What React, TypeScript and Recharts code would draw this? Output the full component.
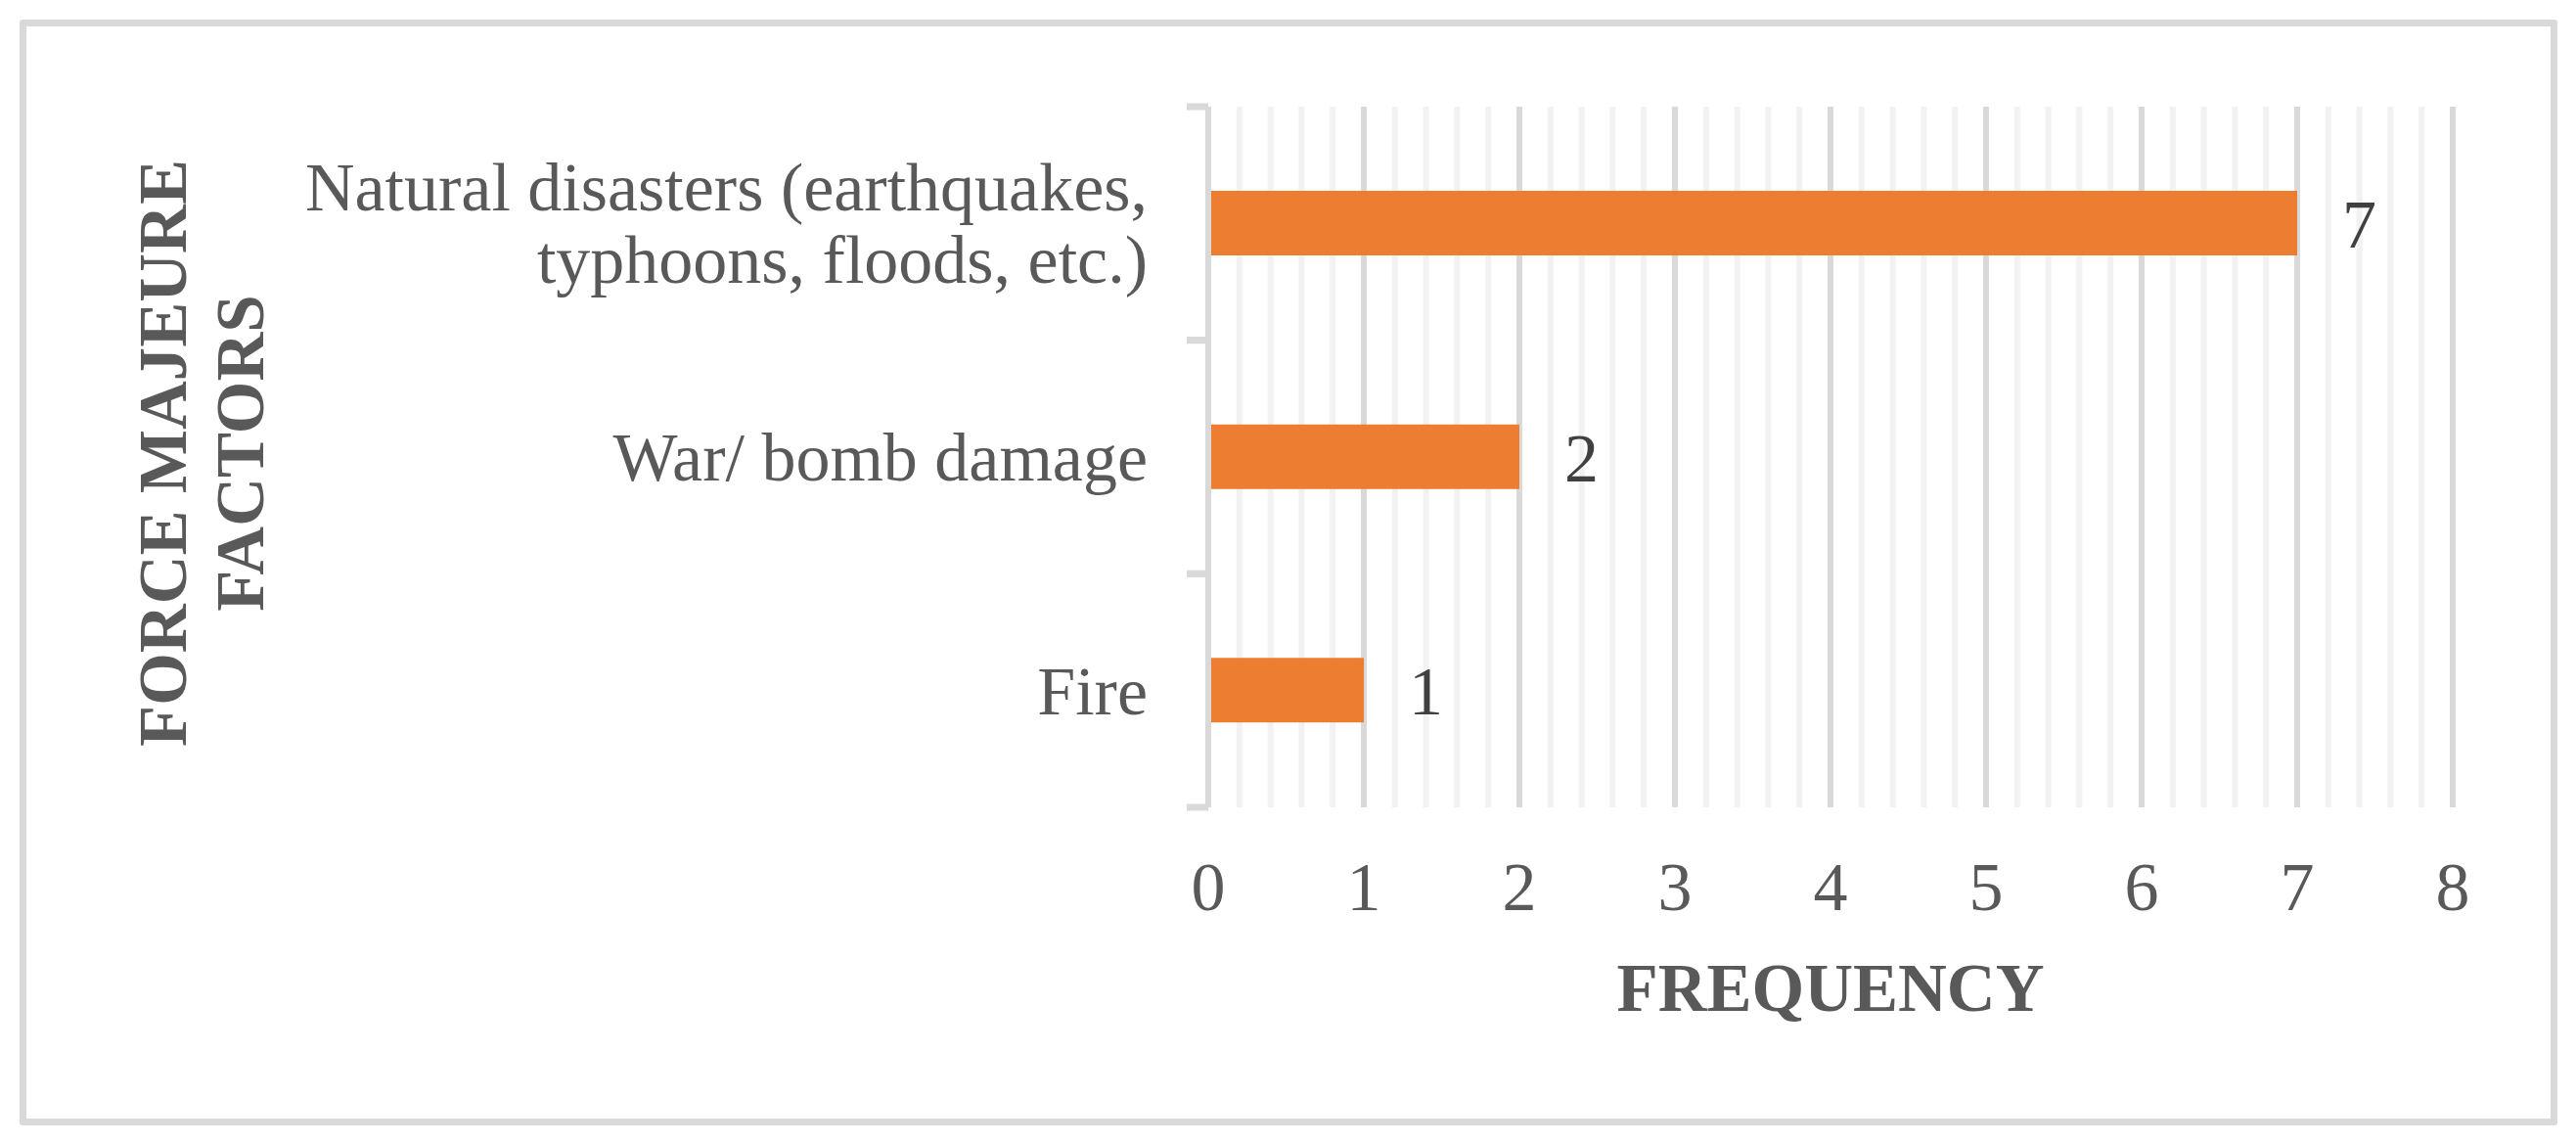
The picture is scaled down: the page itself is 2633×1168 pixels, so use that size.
import React from 'react';
import { BarChart, Bar, XAxis, YAxis, CartesianGrid, LabelList, Label } from 'recharts';

const categories = ['Natural disasters (earthquakes,\ntyphoons, floods, etc.)', 'War/ bomb damage', 'Fire'];
const frequency = [7, 2, 1];
const xTicks = [0, 1, 2, 3, 4, 5, 6, 7, 8];
// minor gridlines every 0.2 between the whole-number ticks
const minorTicks: number[] = [];
for (let i = 0; i <= 40; i++) minorTicks.push(i / 5);

const data = categories.map((name, i) => ({ name, value: frequency[i] }));

const FONT = '"Liberation Serif", "Times New Roman", serif';
const TEXT = '#595959';
const GRID = '#d9d9d9';

const CategoryTick = (props: any) => {
  const { x, y, payload } = props;
  const lines: string[] = String(payload.value).split('\n');
  const lh = 74;
  const half = payload.offset || 0;
  return (
    <g>
      <line x1={x - 22} x2={x} y1={y - half} y2={y - half} stroke={GRID} strokeWidth={7} />
      <line x1={x - 22} x2={x} y1={y + half} y2={y + half} stroke={GRID} strokeWidth={7} />
      <text x={x - 62} y={y} textAnchor="end" fontFamily={FONT} fontSize={70} fill={TEXT}>
        {lines.map((l, i) => (
          <tspan key={i} x={x - 62} dy={i === 0 ? 24 - ((lines.length - 1) * lh) / 2 : lh}>
            {l}
          </tspan>
        ))}
      </text>
    </g>
  );
};

const YTitle = (props: any) => {
  const { viewBox } = props;
  const cy = viewBox.y + viewBox.height / 2 - 4;
  const lines = ['FORCE MAJEURE', 'FACTORS'];
  const xs = [viewBox.x + 190, viewBox.x + 269];
  return (
    <g>
      {lines.map((l, i) => (
        <text
          key={i}
          x={xs[i]}
          y={cy}
          transform={`rotate(-90 ${xs[i]} ${cy})`}
          textAnchor="middle"
          fontFamily={FONT}
          fontWeight="bold"
          fontSize={69}
          fill={TEXT}
        >
          {l}
        </text>
      ))}
    </g>
  );
};

export default function App() {
  return (
    <div style={{ position: 'absolute', left: 0, top: 0, width: 2633, height: 1168, background: '#fff' }}>
      <div
        style={{
          position: 'absolute',
          left: 20,
          top: 20,
          width: 2594,
          height: 1130,
          border: `7px solid ${GRID}`,
          borderRadius: 3,
          boxSizing: 'border-box',
        }}
      />
      <div style={{ position: 'absolute', left: 0, top: 0 }}>
        <BarChart
          width={2633}
          height={1168}
          layout="vertical"
          data={data}
          margin={{ top: 109, right: 126, bottom: 143, left: 0 }}
          barCategoryGap={0}
        >
          <CartesianGrid horizontal={false} verticalValues={minorTicks} stroke="#f2f2f2" strokeWidth={6} />
          <CartesianGrid horizontal={false} stroke={GRID} strokeWidth={6} />
          <XAxis
            type="number"
            domain={[0, 8]}
            ticks={xTicks}
            height={200}
            axisLine={false}
            tickLine={false}
            tickSize={0}
            tickMargin={55}
            tick={{ fontFamily: FONT, fontSize: 70, fill: TEXT }}
          >
            <Label
              value="FREQUENCY"
              position="insideBottom"
              offset={-8}
              fontFamily={FONT}
              fontWeight="bold"
              fontSize={69}
              fill={TEXT}
            />
          </XAxis>
          <YAxis
            type="category"
            dataKey="name"
            width={1235}
            interval={0}
            tickLine={false}
            tickSize={0}
            tickMargin={0}
            axisLine={{ stroke: GRID, strokeWidth: 6 }}
            tick={<CategoryTick />}
          >
            <Label content={<YTitle />} />
          </YAxis>
          <Bar dataKey="value" fill="#ed7d31" barSize={66} isAnimationActive={false}>
            <LabelList
              dataKey="value"
              position="right"
              offset={46}
              fontFamily={FONT}
              fontSize={70}
              fill="#404040"
            />
          </Bar>
        </BarChart>
      </div>
    </div>
  );
}
